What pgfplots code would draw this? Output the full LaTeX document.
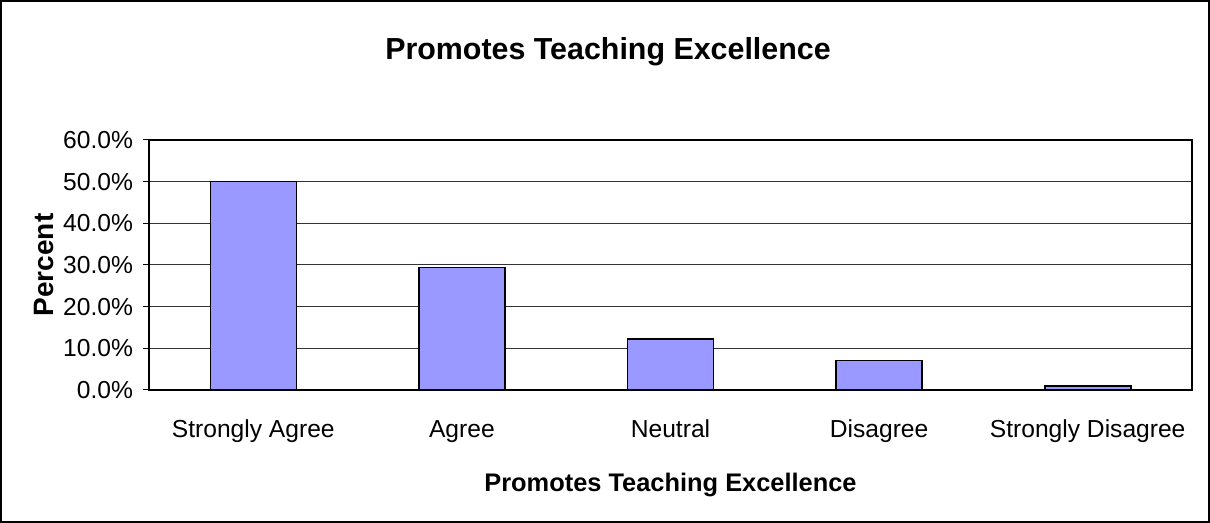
\documentclass[border=0pt]{standalone}
\usepackage{pgfplots}
\pgfplotsset{compat=1.18}
\usepackage{fontspec}
\setmainfont{Liberation Sans}
\definecolor{barblue}{RGB}{153,153,255}
\begin{document}
\begin{tikzpicture}
\useasboundingbox (0,0) rectangle (605pt,261.5pt);
\draw[black, line width=0.6pt] (0.5pt,0.5pt) rectangle (604.5pt,261pt);
\begin{axis}[
  at={(74.5pt,66.5pt)}, anchor=south west,
  scale only axis, width=521.5pt, height=125pt,
  xmin=0.5, xmax=5.5, ymin=0, ymax=60,
  ybar, bar width=43pt,
  xtick={1,2,3,4,5},
  xticklabels={Strongly Agree,Agree,Neutral,Disagree,Strongly Disagree},
  x tick style={draw=none},
  extra x ticks={0.5,1.5,2.5,3.5,4.5,5.5},
  extra x tick labels={},
  extra x tick style={major tick length=4pt, tick align=outside, tick style={draw=black, line width=0.5pt}},
  xtick pos=bottom, ytick pos=left,
  ytick={0,10,...,60},
  yticklabel={\pgfmathprintnumber[fixed,fixed zerofill,precision=1]{\tick}\%},
  /pgf/number format/assume math mode=true,
  tick align=outside, major tick length=3pt,
  y tick style={black, line width=0.5pt},
  ymajorgrids, grid style={black!80, line width=0.5pt},
  axis line style={black, line width=0.8pt},
  tick label style={font=\fontsize{12.3}{13}\selectfont},
  yticklabel style={xshift=-1.5pt},
  xticklabel style={yshift=-9pt, text height=1.6ex, text depth=0.5ex},
  xlabel={\textbf{Promotes Teaching Excellence}},
  xlabel style={font=\fontsize{12.7}{14}\selectfont, yshift=-1pt},
  ylabel={\textbf{Percent}},
  ylabel style={font=\fontsize{14}{15}\selectfont, yshift=-2pt},
]
\addplot[fill=barblue, draw=black, line width=0.8pt] coordinates {
  (1,50.0) (2,29.4) (3,12.2) (4,7.1) (5,1.0) };
\end{axis}
\node[font=\bfseries\fontsize{15.2}{17}\selectfont] at (304pt,235.5pt) {Promotes Teaching Excellence};
\end{tikzpicture}
\end{document}
